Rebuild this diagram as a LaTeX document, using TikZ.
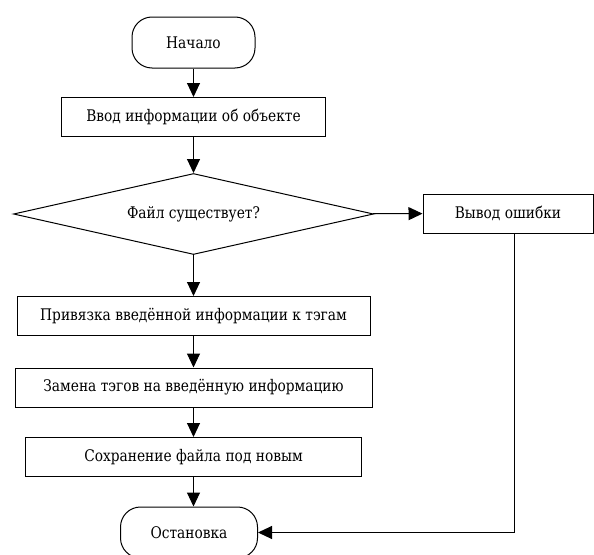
\documentclass[tikz,border=0pt]{standalone}
\usepackage{fontspec}
\setmainfont{DejaVu Serif}[FakeStretch=0.86]
\usetikzlibrary{shapes.geometric}
\usetikzlibrary{arrows.meta}

\tikzset{
  block/.style={rectangle, draw, line width=1pt, minimum height=39pt, inner sep=0pt},
  term/.style={rectangle, draw, rounded corners=20pt, line width=1pt, minimum width=123pt, minimum height=51pt},
  cond/.style={diamond, draw, line width=1pt, minimum width=360pt, minimum height=81pt, inner sep=0pt, aspect=4.5},
  flow/.style={line width=1pt, -{Triangle[length=14pt,width=13pt]}}
}

\begin{document}
\begin{tikzpicture}[x=1pt,y=-1pt,font=\fontsize{16}{19}\selectfont]
	\useasboundingbox (0,0) rectangle (594,554);
	\path (193.5,42.5) node(start)[term]{Начало}
	(193.5,117) node(input)[block, minimum width=264pt]{Ввод информации об объекте}
	(193.5,214) node(check)[cond]{Файл существует?}
	(508,213.5) node(error)[block, minimum width=170pt]{Вывод ошибки}
	(193.5,316) node(bind)[block, minimum width=353pt]{Привязка введённой информации к тэгам}
	(193.5,387.5) node(replace)[block, minimum width=357pt]{Замена тэгов на введённую информацию}
	(193.5,457) node(save)[block, minimum width=336pt]{Сохранение файла под новым}
	(189,532.5) node(stop)[term, minimum width=137pt]{Остановка};
	\draw [flow] (start) -- (input);
	\draw [flow] (input) -- (check);
	\draw [flow] (check) -- (error);
	\draw [flow] (check) -- (bind);
	\draw [flow] (bind) -- (replace);
	\draw [flow] (replace) -- (save);
	\draw [flow] (save.south) -- (save.south |- stop.north);
	\draw [flow] ([xshift=6pt]error.south) |- (stop.east);
\end{tikzpicture}
\end{document}
